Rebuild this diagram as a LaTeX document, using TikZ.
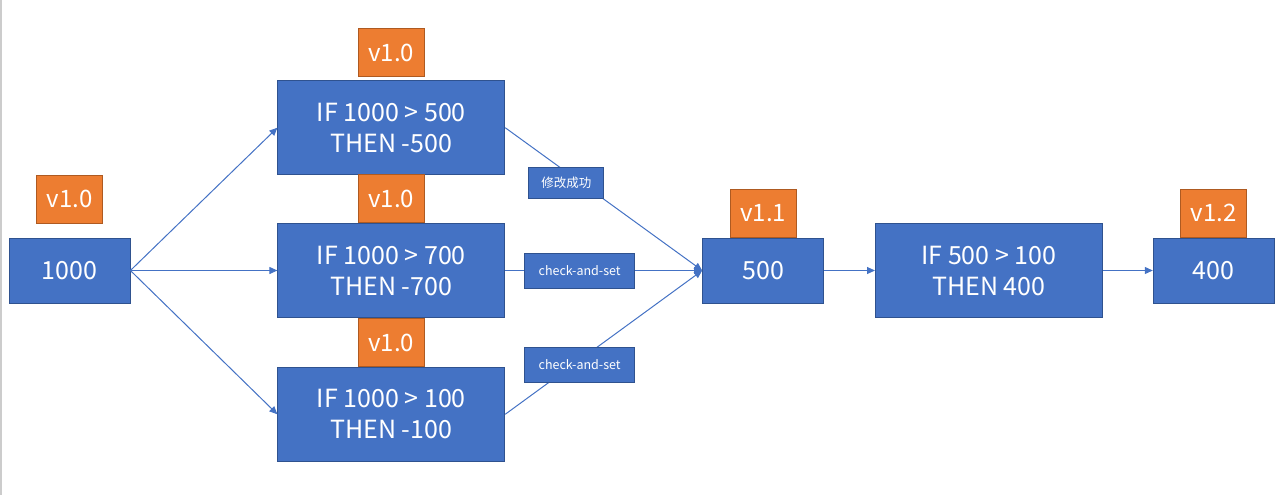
\documentclass[tikz,border=0pt]{standalone}
\usepackage{fontspec}
\setmainfont{Noto Sans CJK SC}
\usetikzlibrary{arrows.meta, positioning}
\definecolor{boxblue}{HTML}{4472C4}
\definecolor{boxedge}{HTML}{2F528F}
\definecolor{tagorange}{HTML}{ED7D31}
\definecolor{tagedge}{HTML}{AE5A21}

\begin{document}
\begin{tikzpicture}[
  x=1pt, y=1pt,
  node distance=50pt,
  box/.style={draw=boxedge, fill=boxblue, text=white, align=center, inner sep=0pt, line width=0.8pt, font=\fontsize{25}{31}\selectfont},
  valbox/.style={box, minimum width=121pt, minimum height=65pt},
  rulebox/.style={box, minimum width=227pt, minimum height=94pt},
  tag/.style={draw=tagedge, fill=tagorange, text=white, inner sep=0pt, line width=0.8pt, minimum width=66pt, minimum height=48pt, font=\fontsize{24}{28}\selectfont},
  note/.style={draw=boxedge, fill=boxblue, text=white, inner sep=0pt, line width=0.8pt, font=\fontsize{12.5}{14}\selectfont},
  arrow/.style={-{Triangle[length=8pt, width=7pt]}, draw=boxblue, line width=1pt}
]
\useasboundingbox (0,0) rectangle (1285,-495);
\draw[black!20, line width=1.5pt] (1,0) -- (1,-495);

\node[valbox] (start) at (69.5,-270.5) {1000};
\node[rulebox, right=147pt of start] (mid) {IF 1000 > 700\\THEN -700};
\node[rulebox, above=48pt of mid] (top) {IF 1000 > 500\\THEN -500};
\node[rulebox, below=49pt of mid] (bottom) {IF 1000 > 100\\THEN -100};
\node[valbox, right=197pt of mid] (v500) {500};
\node[rulebox, right=51pt of v500] (rule) {IF 500 > 100\\THEN 400};
\node[valbox, right=50pt of rule] (v400) {400};

% version tags
\node[tag, above=14pt of start] (tagstart) {v1.0};
\node[tag, above=3pt of top] (tagtop) {v1.0};
\node[tag, above=0pt of mid] (tagmid) {v1.0};
\node[tag, above=0pt of bottom] (tagbottom) {v1.0};
\node[tag, above=0pt of v500] (tag500) {v1.1};
\node[tag, above=0pt of v400] (tag400) {v1.2};

\draw[arrow] (start.east) -- (top.west);
\draw[arrow] (start.east) -- (mid.west);
\draw[arrow] (start.east) -- (bottom.west);
\draw[arrow] (top.east) -- node[note, pos=0.31, yshift=-11pt, minimum width=75pt, minimum height=31pt] (ok) {修改成功} (v500.west);
\draw[arrow] (mid.east) -- node[note, pos=0.378, minimum width=110pt, minimum height=35pt] (cas1) {check-and-set} (v500.west);
\draw[arrow] (bottom.east) -- node[note, pos=0.378, yshift=-5pt, minimum width=110pt, minimum height=35pt] (cas2) {check-and-set} (v500.west);
\draw[arrow] (v500) -- (rule);
\draw[arrow] (rule) -- (v400);
\end{tikzpicture}
\end{document}
